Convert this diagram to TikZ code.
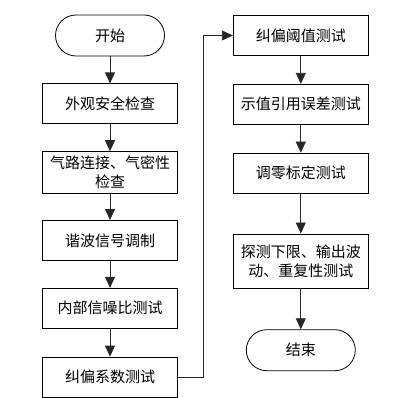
\documentclass[tikz,border=0pt]{standalone}
\usepackage{fontspec}
\newfontfamily\cjk{Noto Sans CJK SC}
\usepackage{tikz}
\usetikzlibrary{arrows.meta,positioning}

\begin{document}
\begin{tikzpicture}[x=1pt,y=1pt, node distance=27pt and 68pt, >=Triangle,
    block/.style={rectangle,draw=black,line width=0.8pt,minimum width=135pt,minimum height=40pt,align=center,inner sep=2pt,font={\cjk\fontsize{15}{19}\selectfont}},
    term/.style={block,rounded corners=20.5pt,minimum width=109pt,minimum height=41pt},
    line/.style={draw=black!85,line width=0.8pt,-{Triangle[length=11pt,width=10pt]}}]
    \useasboundingbox (0,0) rectangle (396,-398);
    \node[term] (start) at (110,-35.5) {开始};
    \node[block,below=of start] (b1) {外观安全检查};
    \node[block,below=of b1,minimum height=42pt] (b2) {气路连接、气密性\\检查};
    \node[block,below=26pt of b2] (b3) {谐波信号调制};
    \node[block,below=of b3] (b4) {内部信噪比测试};
    \node[block,below=28pt of b4] (b5) {纠偏系数测试};
    \node[block,right=of start] (b6) {纠偏阈值测试};
    \node[block,below=28pt of b6] (b7) {示值引用误差测试};
    \node[block,below=28pt of b7] (b8) {调零标定测试};
    \node[block,below=40pt of b8,minimum height=54pt] (b9) {探测下限、输出波\\动、重复性测试};
    \node[term,below=41pt of b9] (end) {结束};
    \path[line](start)--(b1); \path[line](b1)--(b2); \path[line](b2)--(b3); \path[line](b3)--(b4); \path[line](b4)--(b5);
    \path[line](b5.east)--++(25,0)|-(b6.west);
    \path[line](b6)--(b7); \path[line](b7)--(b8); \path[line](b8)--(b9); \path[line](b9)--(end);
  \end{tikzpicture}
\end{document}
